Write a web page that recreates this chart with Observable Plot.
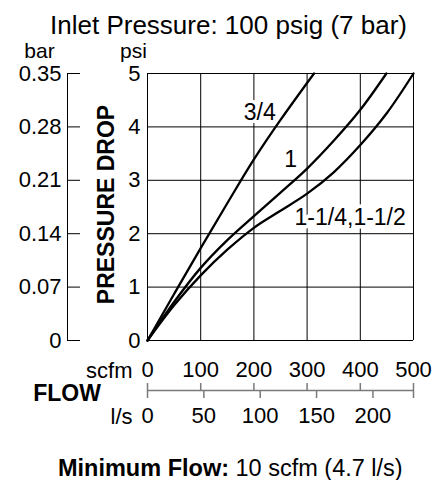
<!DOCTYPE html>
<html>
<head>
<meta charset="utf-8">
<script src="https://cdn.jsdelivr.net/npm/d3@7"></script>
<script src="https://cdn.jsdelivr.net/npm/@observablehq/plot@0.6"></script>
<style>
  html, body { margin: 0; padding: 0; background: #fff; }
  svg { display: block; }
</style>
</head>
<body>
<div id="chart"></div>
<script>
// ---- text ----
const title = "Inlet Pressure: 100 psig (7 bar)";
const captionBold = "Minimum Flow:";
const captionRest = "10 scfm (4.7 l/s)";
const yTitle = "PRESSURE DROP";
const xTitle = "FLOW";

// ---- series (flow in scfm, pressure drop in psi) ----
const seriesNames = ["3/4", "1", "1-1/4,1-1/2"];
const flow34 = [0, 50, 100, 150, 200, 250, 313];
const drop34 = [0, 0.87, 1.73, 2.57, 3.39, 4.13, 5];
const flow1 = [0, 50, 100, 150, 200, 250, 300, 350, 400, 449];
const drop1 = [0, 0.72, 1.36, 1.88, 2.33, 2.77, 3.22, 3.74, 4.32, 5];
const flow114 = [0, 50, 100, 150, 200, 250, 300, 350, 400, 450, 500];
const drop114 = [0, 0.66, 1.22, 1.7, 2.11, 2.43, 2.75, 3.15, 3.66, 4.26, 5];

// series label anchors (scfm, psi)
const labelFlow = [211, 269, 381];
const labelDrop = [4.12, 3.24, 2.16];

// ---- ticks ----
const scfmTicks = [0, 100, 200, 300, 400, 500];
const lsTicks = [0, 50, 100, 150, 200];
const psiTicks = [0, 1, 2, 3, 4, 5];
const psiLabels = ["0", "1", "2", "3", "4", "5"];
const barLabels = ["0", "0.07", "0.14", "0.21", "0.28", "0.35"];
const LS_PER_SCFM = 0.472;

// ---- build table ----
const flows = [flow34, flow1, flow114];
const drops = [drop34, drop1, drop114];
const curveData = seriesNames.flatMap((name, s) =>
  flows[s].map((f, i) => ({ series: name, flow: f, drop: drops[s][i] })));
const labelData = seriesNames.map((name, i) => ({ name, flow: labelFlow[i], drop: labelDrop[i] }));

const FONT = "'Liberation Sans', Arial, Helvetica, sans-serif";
const GRAY = "#7a7a7a";

const chart = Plot.plot({
  width: 438,
  height: 480,
  marginLeft: 147,
  marginRight: 25,
  marginTop: 73,
  marginBottom: 140,
  x: { domain: [0, 500] },
  y: { domain: [0, 5] },
  style: { fontFamily: FONT, fontSize: "22px", background: "#fff", color: "#000", overflow: "visible" },
  marks: [
    // grid
    Plot.gridX(scfmTicks, { stroke: "#000", strokeOpacity: 1, strokeWidth: 1 }),
    Plot.gridY(psiTicks, { stroke: "#000", strokeOpacity: 1, strokeWidth: 1 }),

    // psi axis labels
    Plot.axisY(psiTicks, {
      anchor: "left", tickSize: 0, tickPadding: 7, fontSize: 22, label: null,
      tickFormat: d => psiLabels[psiTicks.indexOf(d)]
    }),

    // bar axis (secondary, aligned with psi ticks)
    Plot.ruleX([0], { dx: -80, stroke: "#000", strokeWidth: 1 }),
    Plot.axisY(psiTicks, {
      anchor: "left", dx: -80, tickSize: -13, tickPadding: 19, fontSize: 22, label: null,
      stroke: "#000", tickFormat: d => barLabels[psiTicks.indexOf(d)]
    }),

    // scfm axis labels
    Plot.axisX(scfmTicks, { anchor: "bottom", tickSize: 0, tickPadding: 21, fontSize: 22, label: null }),

    // flow double scale line
    Plot.ruleY([0], { dy: 50, stroke: GRAY, strokeWidth: 1.5 }),
    Plot.axisX(scfmTicks, { anchor: "bottom", dy: 43, tickSize: 7, fill: "none", stroke: GRAY, strokeWidth: 1.5, label: null }),
    Plot.axisX(lsTicks.map(v => v / LS_PER_SCFM), {
      anchor: "bottom", dy: 50, tickSize: 8, tickPadding: 9, fontSize: 22, label: null,
      stroke: GRAY, strokeWidth: 1.5, fill: "#000",
      tickFormat: d => String(Math.round(d * LS_PER_SCFM))
    }),
    Plot.axisX([scfmTicks[scfmTicks.length - 1]], { anchor: "bottom", dy: 50, tickSize: 8, fill: "none", stroke: GRAY, strokeWidth: 1.5, label: null }),

    // curves
    Plot.line(curveData, { x: "flow", y: "drop", z: "series", curve: "catmull-rom", stroke: "#000", strokeWidth: 2.3 }),

    // series labels
    Plot.text(labelData, {
      x: "flow", y: "drop", text: "name", textAnchor: "middle", lineAnchor: "bottom",
      fontSize: 23, fill: "#000", stroke: "#fff", strokeWidth: 7
    }),

    // titles and unit labels
    Plot.text([title], { frameAnchor: "top-left", text: d => d, textAnchor: "middle", lineAnchor: "bottom", dx: 81, dy: -40, fontSize: 26 }),
    Plot.text(["bar"], { frameAnchor: "top-left", text: d => d, textAnchor: "middle", lineAnchor: "bottom", dx: -108, dy: -16, fontSize: 21 }),
    Plot.text(["psi"], { frameAnchor: "top-left", text: d => d, textAnchor: "middle", lineAnchor: "bottom", dx: -14, dy: -16, fontSize: 21 }),
    Plot.text([yTitle], { frameAnchor: "left", text: d => d, rotate: -90, textAnchor: "middle", lineAnchor: "middle", dx: -41, dy: -2.5, fontSize: 23, fontWeight: "bold" }),
    Plot.text(["scfm"], { frameAnchor: "bottom-left", text: d => d, textAnchor: "end", lineAnchor: "bottom", dx: -15, dy: 37, fontSize: 22 }),
    Plot.text([xTitle], { frameAnchor: "bottom-left", text: d => d, textAnchor: "middle", lineAnchor: "bottom", dx: -80.5, dy: 60, fontSize: 23, fontWeight: "bold" }),
    Plot.text(["l/s"], { frameAnchor: "bottom-left", text: d => d, textAnchor: "end", lineAnchor: "bottom", dx: -15, dy: 83, fontSize: 22 }),
    Plot.text([captionBold], { frameAnchor: "bottom-left", text: d => d, textAnchor: "end", lineAnchor: "bottom", dx: 81.5, dy: 135, fontSize: 23.5, fontWeight: "bold" }),
    Plot.text([captionRest], { frameAnchor: "bottom-left", text: d => d, textAnchor: "start", lineAnchor: "bottom", dx: 88, dy: 135, fontSize: 23.5 })
  ]
});
document.getElementById("chart").appendChild(chart);
</script>
</body>
</html>
